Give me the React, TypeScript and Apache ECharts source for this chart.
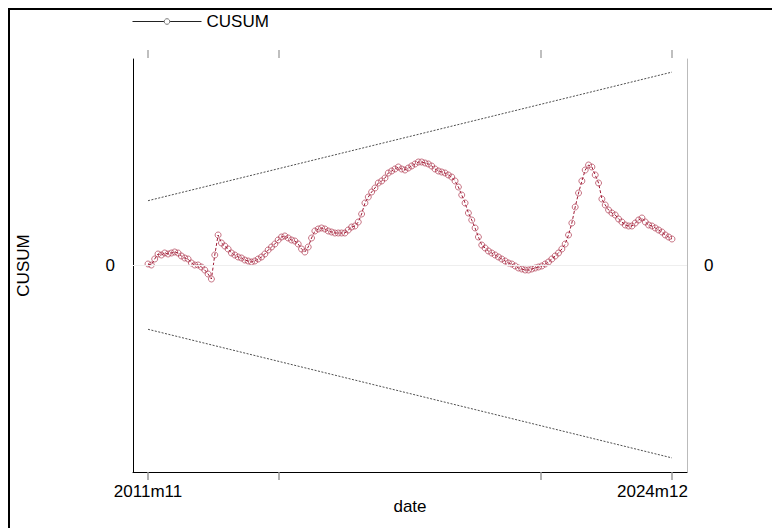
import React, { useEffect, useRef } from "react";
import * as echarts from "echarts";

// months since 2011m11 (0 = 2011m11, 157 = 2024m12)
const cusum: number[] = [
  0.1, 0.0, 0.6, 1.1, 1.0, 1.2, 1.1, 1.2, 1.3, 1.2,
  0.9, 0.7, 0.6, 0.2, 0.0, 0.0, -0.2, -0.5, -0.9, -1.4,
  1.0, 3.0, 2.2, 1.9, 1.6, 1.2, 1.0, 0.8, 0.7, 0.5,
  0.4, 0.3, 0.4, 0.6, 0.8, 1.1, 1.5, 1.8, 2.1, 2.5,
  2.8, 2.9, 2.7, 2.5, 2.4, 2.1, 1.6, 1.3, 1.8, 2.7,
  3.4, 3.6, 3.7, 3.6, 3.4, 3.3, 3.2, 3.2, 3.2, 3.2,
  3.5, 3.8, 3.9, 4.3, 5.1, 6.2, 6.8, 7.3, 7.7, 8.2,
  8.4, 8.7, 9.2, 9.4, 9.6, 9.8, 9.6, 9.5, 9.7, 9.9,
  10.1, 10.3, 10.3, 10.2, 10.1, 9.9, 9.6, 9.4, 9.3, 9.2,
  9.0, 8.8, 8.4, 7.8, 7.0, 6.2, 5.2, 4.5, 3.7, 2.8,
  2.0, 1.7, 1.4, 1.2, 1.0, 0.8, 0.6, 0.4, 0.2, 0.1,
  -0.1, -0.3, -0.4, -0.5, -0.5, -0.4, -0.3, -0.2, -0.1, 0.1,
  0.3, 0.6, 0.9, 1.2, 1.6, 2.1, 3.0, 4.2, 5.8, 7.2,
  8.4, 9.5, 10.0, 9.8, 9.0, 8.2, 6.6, 6.0, 5.5, 5.2,
  5.0, 4.6, 4.3, 4.0, 3.9, 3.9, 4.2, 4.5, 4.7, 4.3,
  4.0, 3.9, 3.7, 3.5, 3.3, 3.0, 2.8, 2.6,
];

const boundMonths: number[] = [0, 157];
const upperBound: number[] = [6.43, 19.29];
const lowerBound: number[] = [-6.43, -19.29];

const tickMonths: number[] = [0, 39.25, 117.75, 157];
const labelMonths: number[] = [0, 157];
const tickLabels: string[] = ["2011m11", "2024m12"];

const FONT = "'Liberation Sans', Arial, Helvetica, sans-serif";

export default function App() {
  const ref = useRef<HTMLDivElement>(null);

  useEffect(() => {
    document.body.style.overflow = "hidden";
    if (!ref.current) return;
    const chart = echarts.init(ref.current, undefined, { renderer: "svg" });

    const seriesData = cusum.map((v, i) => [i, v]);
    const upperData = boundMonths.map((m, i) => [m, upperBound[i]]);
    const lowerData = boundMonths.map((m, i) => [m, lowerBound[i]]);

    const fmt = (v: number) => {
      const idx = labelMonths.indexOf(Math.round(v));
      if (idx < 0) return "";
      return idx === labelMonths.length - 1
        ? `{last|${tickLabels[idx]}}`
        : tickLabels[idx];
    };

    chart.setOption({
      animation: false,
      backgroundColor: "#fff",
      textStyle: { fontFamily: FONT },
      grid: {
        left: 123,
        right: 93,
        top: 49,
        bottom: 56,
        containLabel: false,
        outerBoundsMode: "none",
      },
      legend: {
        show: true,
        left: 122,
        top: 3,
        padding: 0,
        itemWidth: 69,
        itemHeight: 7,
        textStyle: { fontSize: 17, color: "#000", fontFamily: FONT },
        data: [
          {
            name: "CUSUM",
            itemStyle: { color: "#fff", borderColor: "#777", borderWidth: 1 },
            lineStyle: { color: "#222", width: 1, type: "solid" },
          },
        ],
      },
      xAxis: [
        {
          type: "value",
          position: "bottom",
          min: -4.5,
          max: 161.5,
          name: "date",
          nameLocation: "middle",
          nameGap: 26,
          nameMoveOverlap: false,
          nameTextStyle: { fontSize: 17, color: "#000", fontFamily: FONT },
          axisLine: { show: true, onZero: false, lineStyle: { color: "#000", width: 1 } },
          axisTick: {
            show: true,
            customValues: tickMonths,
            length: 8,
            lineStyle: { color: "#999", width: 1.5 },
          },
          axisLabel: {
            customValues: labelMonths,
            formatter: fmt,
            margin: 11,
            fontSize: 17,
            color: "#000",
            fontFamily: FONT,
            rich: {
              last: {
                fontSize: 17,
                color: "#000",
                fontFamily: FONT,
                width: 110,
                align: "left",
              },
            },
          },
          splitLine: { show: false },
        },
        {
          type: "value",
          position: "top",
          min: -4.5,
          max: 161.5,
          offset: 1,
          axisLine: { show: false, onZero: false },
          axisTick: {
            show: true,
            customValues: tickMonths,
            length: 8,
            lineStyle: { color: "#aaa", width: 1.5 },
          },
          axisLabel: { show: false },
          splitLine: { show: false },
        },
      ],
      yAxis: [
        {
          type: "value",
          position: "left",
          min: -20.7,
          max: 20.6,
          name: "CUSUM",
          nameLocation: "middle",
          nameGap: 101,
          nameMoveOverlap: false,
          nameTextStyle: { fontSize: 17, color: "#000", fontFamily: FONT },
          axisLine: { show: true, onZero: false, lineStyle: { color: "#000", width: 1 } },
          axisTick: { show: false },
          axisLabel: {
            customValues: [0],
            margin: 18,
            fontSize: 17,
            color: "#000",
            fontFamily: FONT,
          },
          splitLine: { show: false },
        },
        {
          type: "value",
          position: "right",
          min: -20.7,
          max: 20.6,
          axisLine: { show: true, onZero: false, lineStyle: { color: "#bbb", width: 1 } },
          axisTick: { show: false },
          axisLabel: {
            customValues: [0],
            margin: 17,
            fontSize: 17,
            color: "#000",
            fontFamily: FONT,
          },
          splitLine: { show: false },
        },
      ],
      series: [
        {
          name: "CUSUM",
          type: "line",
          xAxisIndex: 0,
          yAxisIndex: 0,
          data: seriesData,
          symbol: "circle",
          symbolSize: 6,
          showSymbol: true,
          showAllSymbol: true,
          itemStyle: {
            color: "rgba(255,255,255,0)",
            borderColor: "rgba(165,35,60,0.7)",
            borderWidth: 0.9,
          },
          lineStyle: { color: "#9e1a35", width: 1, type: [3, 2] },
          markLine: {
            silent: true,
            symbol: "none",
            label: { show: false },
            lineStyle: { color: "#eeeeee", width: 1, type: "solid" },
            data: [{ yAxis: 0 }],
          },
          z: 3,
        },
        {
          name: "upper",
          type: "line",
          data: upperData,
          symbol: "none",
          silent: true,
          lineStyle: { color: "#222", width: 0.8, type: [2, 1.5] },
        },
        {
          name: "lower",
          type: "line",
          data: lowerData,
          symbol: "none",
          silent: true,
          lineStyle: { color: "#222", width: 0.8, type: [2, 1.5] },
        },
      ],
    });

    return () => chart.dispose();
  }, []);

  return (
    <div
      style={{
        width: 772,
        height: 520,
        boxSizing: "border-box",
        borderLeft: "2px solid #000",
        borderTop: "2px solid #000",
        background: "#fff",
      }}
    >
      <div ref={ref} style={{ width: 770, height: 518 }} />
    </div>
  );
}
